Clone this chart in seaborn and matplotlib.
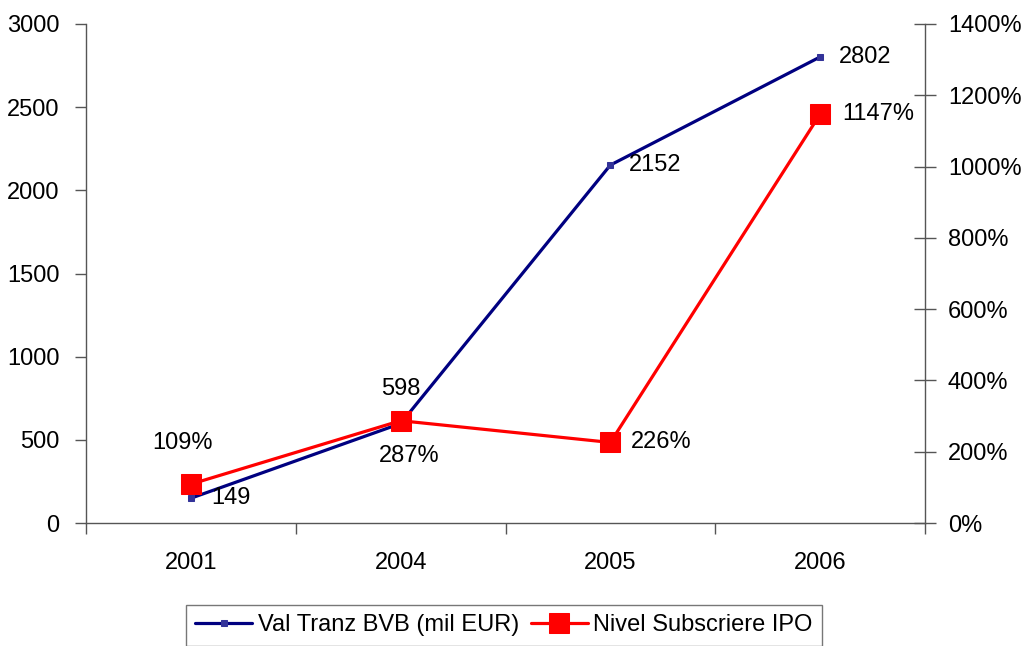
import matplotlib
matplotlib.use("Agg")
import matplotlib.pyplot as plt
import seaborn as sns
import pandas as pd
from matplotlib.ticker import FuncFormatter, FixedLocator

years = ["2001", "2004", "2005", "2006"]
val_tranz = [149, 598, 2152, 2802]
nivel_ipo = [109, 287, 226, 1147]
left_ticks = [0, 500, 1000, 1500, 2000, 2500, 3000]
right_ticks = [0, 200, 400, 600, 800, 1000, 1200, 1400]
label_blue = "Val Tranz BVB (mil EUR)"
label_red = "Nivel Subscriere IPO"

sns.set_style("white")
plt.rcParams["font.family"] = ["Liberation Sans", "DejaVu Sans"]
plt.rcParams["text.color"] = "black"
plt.rcParams["xtick.color"] = "black"
plt.rcParams["ytick.color"] = "black"
FS = 17

df = pd.DataFrame({"an": years, "val": val_tranz, "ipo": nivel_ipo})

fig = plt.figure(figsize=(10.29, 6.46), dpi=100)
ax = fig.add_axes([86 / 1029, 1 - 523 / 646, (925 - 86) / 1029, (523 - 24) / 646])
ax2 = ax.twinx()

sns.lineplot(data=df, x="an", y="val", ax=ax, color="#000080", lw=2.3,
             marker="s", markersize=5, markerfacecolor="#333399",
             markeredgecolor="#333399", label=label_blue, legend=False, sort=False)
sns.lineplot(data=df, x="an", y="ipo", ax=ax2, color="#FF0000", lw=2.3,
             marker="s", markersize=14, markerfacecolor="#FF0000",
             markeredgecolor="#FF0000", label=label_red, legend=False, sort=False)

ax.set_xlim(-0.5, 3.5)
ax.set_ylim(0, 3000)
ax2.set_ylim(0, 1400)
ax.set_xlabel("")
ax.set_ylabel("")
ax2.set_ylabel("")

ax.set_yticks(left_ticks)
ax.tick_params(axis="y", direction="out", length=8, width=1, color="#555555",
               labelcolor="black", labelsize=FS, pad=11, left=True)
ax2.set_yticks(right_ticks)
ax2.yaxis.set_major_formatter(FuncFormatter(lambda v, p: f"{int(v)}%"))
ax2.tick_params(axis="y", direction="inout", length=16, width=1, color="#555555",
                labelcolor="black", labelsize=FS, pad=8.5, right=True)

ax.set_xticks(range(len(years)))
ax.set_xticklabels(years)
ax.xaxis.set_minor_locator(FixedLocator([i - 0.5 for i in range(len(years) + 1)]))
ax.tick_params(axis="x", which="major", length=0, labelsize=FS, labelcolor="black", pad=21)
ax.tick_params(axis="x", which="minor", direction="out", length=8, width=1,
               color="#555555", bottom=True)

for a in (ax, ax2):
    a.grid(False)
    for s in a.spines.values():
        s.set_visible(False)
ax.spines["left"].set_visible(True)
ax.spines["bottom"].set_visible(True)
ax2.spines["right"].set_visible(True)
for s in (ax.spines["left"], ax.spines["bottom"], ax2.spines["right"]):
    s.set_color("#555555")
    s.set_linewidth(1)

# value labels for the transaction series
blue_offsets = [(20, 0, "left"), (0, 35, "center"), (19, 0, "left"), (19, 0, "left")]
for i, (v, (dx, dy, ha)) in enumerate(zip(val_tranz, blue_offsets)):
    ax.annotate(f"{v}", (i, v), xytext=(dx, dy), textcoords="offset pixels",
                ha=ha, va="center", fontsize=FS, color="black")

# value labels for the subscription series
red_offsets = [(-8, 41, "center"), (9, -35, "center"), (21, 0, "left"), (22, 0, "left")]
for i, (v, (dx, dy, ha)) in enumerate(zip(nivel_ipo, red_offsets)):
    ax2.annotate(f"{v}%", (i, v), xytext=(dx, dy), textcoords="offset pixels",
                 ha=ha, va="center", fontsize=FS, color="black")

h1, l1 = ax.get_legend_handles_labels()
h2, l2 = ax2.get_legend_handles_labels()
leg = fig.legend(h1 + h2, l1 + l2, loc="upper center",
                 bbox_to_anchor=(504 / 1029, 1 - 605 / 646), ncol=2,
                 fontsize=FS, frameon=True, fancybox=False, shadow=False,
                 handlelength=2.4, handletextpad=0.25, columnspacing=0.5,
                 borderpad=0.4, borderaxespad=0)
leg.get_frame().set_edgecolor("#555555")
leg.get_frame().set_linewidth(1)

fig.savefig("out.png", dpi=100)
